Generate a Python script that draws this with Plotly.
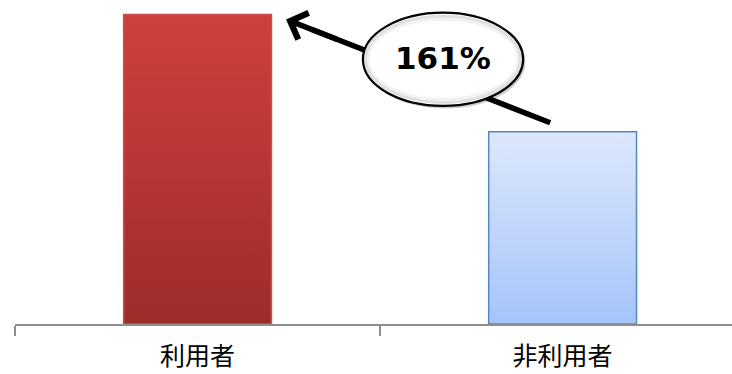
import plotly.graph_objects as go

# Usage comparison: users vs non-users (non-users = 100)
categories = ["利用者", "非利用者"]
values = [161, 100]

top_colors = ["#CF403D", "#DDE8FC"]
bottom_colors = ["#9C2C2A", "#A5C4FA"]
edge_colors = ["#C9524F", "#5686C6"]

ratio_label = f"{round(values[0] / values[1] * 100)}%"

bar_width = 0.405
x_max = 1.464
y_max = 168.6

fig = go.Figure()

# Gradient-filled bars drawn as closed polygons on the numeric x axis
for i, (cat, v) in enumerate(zip(categories, values)):
    x0, x1 = i - bar_width / 2, i + bar_width / 2
    fig.add_trace(go.Scatter(
        x=[x0, x1, x1, x0, x0],
        y=[0, 0, v, v, 0],
        mode="lines",
        fill="toself",
        fillgradient=dict(
            type="vertical",
            colorscale=[[0, bottom_colors[i]], [1, top_colors[i]]],
            start=0,
            stop=v,
        ),
        line=dict(color=edge_colors[i], width=1.5),
        name=cat,
        showlegend=False,
        hoverinfo="skip",
    ))

# Arrow from just above the second bar to the top corner of the first bar
head_x, head_y = 0 + bar_width / 2 + 0.04, values[0] - 2.5
tail_x, tail_y = 1 - 0.034, values[1] + 4.7
t_arrow = 0.2   # where the arrow-head annotation starts along the shaft
t_shaft = 0.1   # where the plain shaft stops (overlaps the annotation)


def along(t):
    return head_x + t * (tail_x - head_x), head_y + t * (tail_y - head_y)


arrow_x, arrow_y = along(t_arrow)
shaft_x, shaft_y = along(t_shaft)

# Ellipse callout (in data units)
ex0, ex1 = 0.453, 0.892
ey0, ey1 = 113.5, 162.0
sx, sy = 0.006, -1.4  # drop-shadow offset

shapes = [
    dict(type="line", xref="x", yref="y", x0=tail_x, y0=tail_y, x1=shaft_x, y1=shaft_y,
         line=dict(color="black", width=5.5)),
    dict(type="circle", xref="x", yref="y", x0=ex0 + sx, x1=ex1 + sx, y0=ey0 + sy, y1=ey1 + sy,
         fillcolor="rgba(0,0,0,0.20)", line=dict(width=0)),
    dict(type="circle", xref="x", yref="y", x0=ex0, x1=ex1, y0=ey0, y1=ey1,
         fillcolor="white", line=dict(color="black", width=2.2)),
    dict(type="circle", xref="x", yref="y", x0=ex0 + 0.007, x1=ex1 - 0.007, y0=ey0 + 1.8, y1=ey1 - 1.8,
         fillcolor="rgba(0,0,0,0)", line=dict(color="rgba(0,0,0,0.12)", width=3)),
    dict(type="circle", xref="x", yref="y", x0=ex0 + 0.014, x1=ex1 - 0.014, y0=ey0 + 3.4, y1=ey1 - 3.4,
         fillcolor="rgba(0,0,0,0)", line=dict(color="rgba(0,0,0,0.05)", width=3)),
]

annotations = [
    dict(x=head_x, y=head_y, ax=arrow_x, ay=arrow_y, xref="x", yref="y", axref="x", ayref="y",
         text="", showarrow=True, arrowhead=4, arrowsize=1, arrowwidth=5.5,
         arrowcolor="black", standoff=0),
    dict(x=(ex0 + ex1) / 2, y=(ey0 + ey1) / 2 + 0.5, xref="x", yref="y",
         text=f"<b>{ratio_label}</b>", showarrow=False,
         font=dict(family="DejaVu Sans", size=31, color="black")),
]

fig.update_layout(
    width=732,
    height=374,
    margin=dict(l=15, r=0, t=0, b=50),
    paper_bgcolor="white",
    plot_bgcolor="white",
    shapes=shapes,
    annotations=annotations,
    xaxis=dict(
        range=[-0.5, x_max],
        tickvals=[0, 1],
        ticktext=categories,
        ticks="",
        ticklabelstandoff=9,
        tickfont=dict(family="Noto Sans CJK JP", size=25, color="black"),
        showline=True,
        linecolor="#8E8E8E",
        linewidth=2,
        showgrid=False,
        zeroline=False,
        automargin=False,
        minor=dict(tickvals=[-0.5, 0.5, 1.5], ticks="outside", ticklen=10,
                   tickwidth=2, tickcolor="#8E8E8E", showgrid=False),
        fixedrange=True,
    ),
    yaxis=dict(range=[0, y_max], visible=False, fixedrange=True),
)

fig.write_html("out.html")
